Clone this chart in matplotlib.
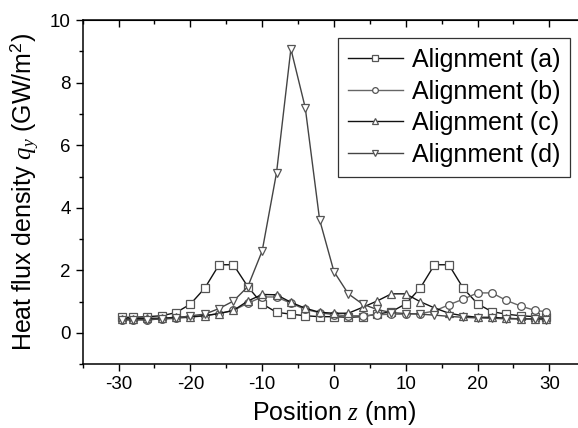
""" Heat flux density along z for four alignments """

import numpy as np
import matplotlib
matplotlib.use('Agg')
import matplotlib.pyplot as plt

plt.rcParams['font.family'] = ['Liberation Sans', 'DejaVu Sans']
plt.rcParams['mathtext.fontset'] = 'custom'
plt.rcParams['mathtext.rm'] = 'Liberation Sans'
plt.rcParams['mathtext.it'] = 'Liberation Serif:italic'
plt.rcParams['axes.unicode_minus'] = False

# Position z (nm)
z = [-29.5, -28, -26, -24, -22, -20, -18, -16, -14, -12, -10, -8, -6, -4, -2,
     0, 2, 4, 6, 8, 10, 12, 14, 16, 18, 20, 22, 24, 26, 28, 29.5]

# Heat flux density (GW/m^2)
q_a = [0.50, 0.50, 0.52, 0.55, 0.65, 0.92, 1.43, 2.18, 2.18, 1.48, 0.93, 0.66,
       0.60, 0.55, 0.52, 0.52, 0.50, 0.52, 0.60, 0.68, 0.93, 1.43, 2.18, 2.18,
       1.43, 0.93, 0.68, 0.60, 0.55, 0.52, 0.50]
q_b = [0.42, 0.42, 0.42, 0.45, 0.47, 0.50, 0.55, 0.62, 0.72, 0.95, 1.15, 1.15,
       0.95, 0.75, 0.65, 0.58, 0.55, 0.55, 0.58, 0.60, 0.60, 0.62, 0.70, 0.90,
       1.08, 1.28, 1.28, 1.04, 0.86, 0.72, 0.68]
q_c = [0.45, 0.45, 0.47, 0.47, 0.50, 0.52, 0.55, 0.62, 0.72, 1.02, 1.23, 1.22,
       0.98, 0.79, 0.66, 0.63, 0.63, 0.82, 1.02, 1.25, 1.25, 1.00, 0.80, 0.63,
       0.55, 0.50, 0.50, 0.47, 0.45, 0.45, 0.45]
q_d = [0.42, 0.42, 0.42, 0.45, 0.47, 0.55, 0.60, 0.78, 1.02, 1.48, 2.62, 5.12,
       9.08, 7.20, 3.62, 1.96, 1.25, 0.92, 0.75, 0.65, 0.62, 0.60, 0.57, 0.53,
       0.50, 0.48, 0.47, 0.45, 0.45, 0.45, 0.42]

series = [
    (q_a, 's', '#111111', 'Alignment (a)'),
    (q_b, 'o', '#666666', 'Alignment (b)'),
    (q_c, '^', '#111111', 'Alignment (c)'),
    (q_d, 'v', '#444444', 'Alignment (d)'),
]

fig = plt.figure(figsize=(5.78, 4.28), dpi=100)
ax = fig.add_axes([0.143, 0.149, 0.8696, 0.804])

for q, m, c, lab in series:
    ax.plot(z, q, color=c, lw=1.0, marker=m, markersize=5.5,
            markerfacecolor='white', markeredgecolor='#555555',
            markeredgewidth=0.9, label=lab)

ax.set_xlim(-35, 35)
ax.set_ylim(-1, 10)
ax.set_xticks(np.arange(-30, 31, 10))
ax.set_xticks(np.arange(-35, 36, 5), minor=True)
ax.set_yticks(np.arange(0, 11, 2))
ax.set_yticks(np.arange(-1, 11, 1), minor=True)
ax.tick_params(which='major', direction='out', length=5, width=1,
               labelsize=13.5)
ax.tick_params(which='minor', direction='out', length=3, width=1)

# ticks pointing inward on the top and right sides
top = ax.secondary_xaxis('top')
top.set_xticks(np.arange(-30, 31, 10))
top.set_xticks(np.arange(-35, 36, 5), minor=True)
top.tick_params(which='major', direction='in', length=5, width=1,
                labeltop=False)
top.tick_params(which='minor', direction='in', length=3, width=1)
right = ax.secondary_yaxis('right')
right.set_yticks(np.arange(0, 11, 2))
right.set_yticks(np.arange(-1, 11, 1), minor=True)
right.tick_params(which='major', direction='in', length=5, width=1,
                  labelright=False)
right.tick_params(which='minor', direction='in', length=3, width=1)

for s in ax.spines.values():
    s.set_linewidth(1.1)

ax.set_xlabel('Position $z$ (nm)', fontsize=18, labelpad=4)
ax.set_ylabel('Heat flux density $q_y$ (GW/m$^2$)', fontsize=18, labelpad=6)

leg = ax.legend(loc='upper right', bbox_to_anchor=(0.9696, 0.948),
                borderaxespad=0, fontsize=18, handlelength=2.2,
                handletextpad=0.35, labelspacing=0.3, borderpad=0.4,
                markerscale=0.75, fancybox=False, edgecolor='#333333',
                framealpha=1)
leg.get_frame().set_linewidth(0.9)

fig.savefig('out.png', dpi=100)
